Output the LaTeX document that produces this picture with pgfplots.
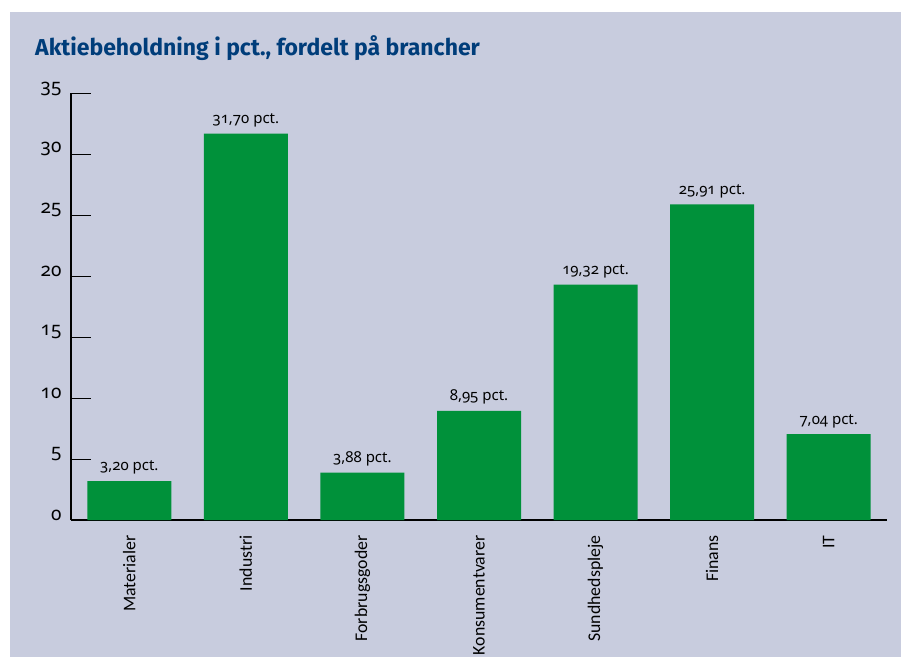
\documentclass[border=0pt]{standalone}
\usepackage{pgfplots}
\pgfplotsset{compat=1.18}
\usepackage{fontspec}
\setmainfont{Fira Sans}
\newfontfamily\numfont[Numbers=OldStyle]{Noto Sans}
\newfontfamily\labfont{Carlito}
\definecolor{bgblue}{RGB}{200,204,222}
\definecolor{bargreen}{RGB}{0,145,58}
\definecolor{titleblue}{RGB}{0,61,122}
\pgfplotstableread{
x y lab
0 3.20 {3,20 pct.}
1 31.70 {31,70 pct.}
2 3.88 {3,88 pct.}
3 8.95 {8,95 pct.}
4 19.32 {19,32 pct.}
5 25.91 {25,91 pct.}
6 7.04 {7,04 pct.}
}\datatable
\begin{document}
\begin{tikzpicture}[x=1pt,y=1pt]
\fill[white] (0,0) rectangle (901,657);
\fill[bgblue] (10,0) rectangle (901,645);
\node[anchor=base west, text=titleblue, font=\fontsize{23}{27}\selectfont\bfseries, inner sep=0pt] at (35,601) {Aktiebeholdning i pct., fordelt på brancher};
\begin{axis}[
  at={(71pt,137pt)}, anchor=south west,
  scale only axis, width=816pt, height=426.5pt,
  xmin=-0.5, xmax=6.5, ymin=0, ymax=35,
  axis x line*=bottom, axis y line*=left,
  axis line style={black, line width=1.3pt, -},
  ytick={0,5,...,35},
  yticklabel style={font=\numfont\fontsize{19}{22}\selectfont, xshift=-6pt, yshift=5pt},
  y tick label style={/pgf/number format/assume math mode=true},
  ytick style={black, line width=1pt},
  major tick length=20pt, tick align=inside,
  xtick={0,...,6},
  xticklabels={Materialer,Industri,Forbrugsgoder,Konsumentvarer,Sundhedspleje,Finans,IT},
  xticklabel style={font=\labfont\fontsize{17.8}{21}\selectfont, rotate=90, anchor=east, xshift=-12pt},
  xtick style={draw=none},
  extra x ticks={0.5,1.5,...,6.5},
  extra x tick labels={},
  extra x tick style={tick style={black, line width=1pt}, major tick length=10pt, tick align=inside},
  bar width=84pt,
  nodes near coords={\pgfplotspointmeta},
  point meta=explicit symbolic,
  every node near coord/.append style={font=\numfont\fontsize{15}{18}\selectfont, black, yshift=3pt},
  clip=false,
]
\addplot[ybar, fill=bargreen, draw=none] table[x=x, y=y, meta=lab] {\datatable};
\end{axis}
\end{tikzpicture}
\end{document}
